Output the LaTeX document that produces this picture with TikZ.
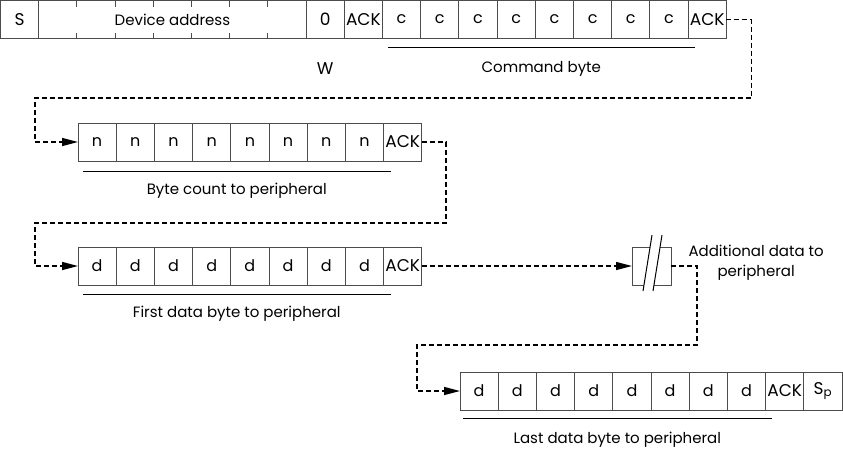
\documentclass[tikz,border=0pt]{standalone}
\usepackage{fontspec}
\setmainfont{Poppins}
\usepackage{tikz}
\usetikzlibrary{positioning}
\usetikzlibrary{arrows.meta}

\begin{document}
\begin{tikzpicture}[x=1pt,y=-1pt,node distance=0pt,>={Triangle[length=16pt,width=8pt]},
                    font=\fontsize{15}{20}\selectfont]
  \tikzstyle{bit}=[draw=black!70,line width=1pt,minimum width=38.2pt,minimum height=38pt,
                   inner sep=0pt,outer sep=0pt,font=\fontsize{16}{20}\selectfont]
  \tikzstyle{bigcaps}=[font=\fontsize{17}{20}\selectfont]
  \tikzstyle{flow}=[->,line width=1.4pt,dash pattern=on 5pt off 3pt]
  \tikzstyle{rule}=[line width=1pt]

  \useasboundingbox (0,0) rectangle (843,448);

  % write: address + command byte
  \node[bit,bigcaps,anchor=north west] (s) at (0.5,0.5) {S};
  \node[bit,minimum width=267.4pt,font=\fontsize{15}{20}\selectfont] (addr) [right=of s] {Device address};
  \foreach \k in {1,...,6}
    \draw[rule,black!70] ([xshift=38.2*\k]addr.north west) -- ++(0,6)
                         ([xshift=38.2*\k]addr.south west) -- ++(0,-6);
  \node[bit,bigcaps] (rw) [right=of addr] {0};
  \node[bit,bigcaps] (ack1) [right=of rw] {ACK};
  \node[bit] (c1) [right=of ack1] {c};
  \foreach \i [count=\j from 1] in {2,...,8}
    \node[bit] (c\i) [right=of c\j] {c};
  \node[bit,bigcaps] (ack2) [right=of c8] {ACK};
  \node[bigcaps] (w) at ([shift={(0,30)}]rw.south) {W};
  \draw[rule] ([shift={(5,9)}]c1.south west) -- ([shift={(7,9)}]c8.south east)
    node[midway,below=10pt] (cmd) {Command byte};

  % byte count
  \node[bit,anchor=north west] (n1) at (78,123) {n};
  \foreach \i [count=\j from 1] in {2,...,8}
    \node[bit] (n\i) [right=of n\j] {n};
  \node[bit,bigcaps] (ack3) [right=of n8] {ACK};
  \draw[rule] ([shift={(5,10)}]n1.south west) -- ([shift={(7,10)}]n8.south east)
    node[midway,below=8pt] (cnt) {Byte count to peripheral};

  % first data byte
  \node[bit,anchor=north west] (d1) at (78,247) {d};
  \foreach \i [count=\j from 1] in {2,...,8}
    \node[bit] (d\i) [right=of d\j] {d};
  \node[bit,bigcaps] (ack4) [right=of d8] {ACK};
  \draw[rule] ([shift={(5,9)}]d1.south west) -- ([shift={(7,9)}]d8.south east)
    node[midway,below=8pt] (first) {First data byte to peripheral};

  % more data
  \node[bit,anchor=north west,minimum width=39pt] (gap) at (632,247) {};
  \fill[white] ([shift={(-8.5,25)}]gap.center) -- ++(9,-56) -- ++(10,0) -- ++(-9,56) -- cycle;
  \draw[rule] ([shift={(-8.5,25)}]gap.center) -- ++(9,-56)
              ([shift={(1.5,25)}]gap.center) -- ++(9,-56);
  \node[align=center,right=14pt of gap,yshift=3pt] (more) {Additional data to\\peripheral};

  % last data byte
  \node[bit,anchor=north west] (e1) at (460,372) {d};
  \foreach \i [count=\j from 1] in {2,...,8}
    \node[bit] (e\i) [right=of e\j] {d};
  \node[bit,bigcaps] (ack5) [right=of e8] {ACK};
  \node[bit,bigcaps] (stop) [right=of ack5] {S\textsubscript{p}};
  \draw[rule] ([shift={(3,8)}]e1.south west) -- ([shift={(6,8)}]e8.south east)
    node[midway,below=10pt] (last) {Last data byte to peripheral};

  % flow
  \draw[flow] (ack2.east) -- ++(25,0) |- ([shift={(-43,-44)}]n1.west) |- (n1.west);
  \draw[flow] (ack3.east) -- ++(24,0) |- ([shift={(-43,-43)}]d1.west) |- (d1.west);
  \draw[flow] (ack4.east) -- (gap.west);
  \draw[flow] (gap.east) -- ++(26,0) |- ([shift={(-43,-46)}]e1.west) |- (e1.west);
\end{tikzpicture}
\end{document}
